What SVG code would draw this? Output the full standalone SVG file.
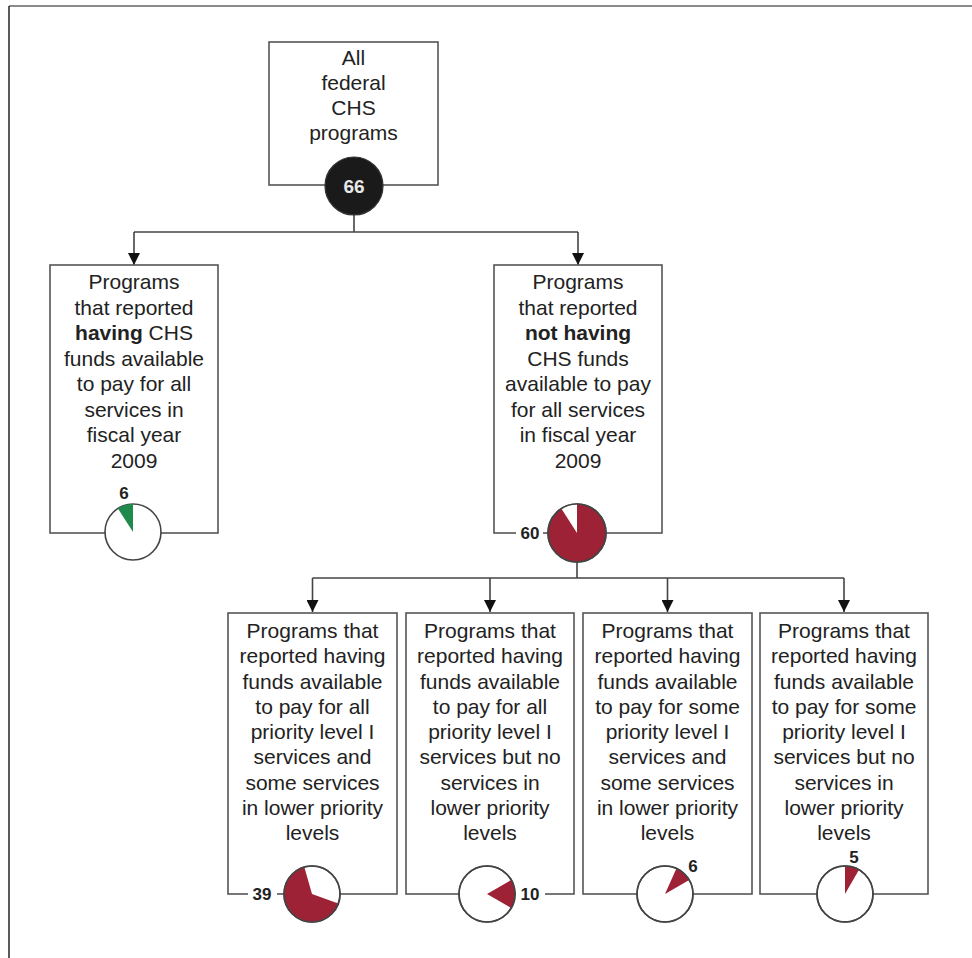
<svg xmlns="http://www.w3.org/2000/svg" width="972" height="958" viewBox="0 0 972 958">
<defs>
<marker id="arr" viewBox="0 0 12 12" refX="12" refY="6" markerWidth="12" markerHeight="12" markerUnits="userSpaceOnUse" orient="auto">
<path d="M0,0 L12,6 L0,12 Z" fill="#111"/>
</marker>
<style>
.box{fill:#fff;stroke:#555;stroke-width:1.6}
.t{font-family:"Liberation Sans",Arial,sans-serif;font-size:21px;fill:#222;text-anchor:middle}
.n{font-family:"Liberation Sans",Arial,sans-serif;font-size:17px;font-weight:bold;fill:#222;text-anchor:middle}
.pie{fill:#fff;stroke:#444;stroke-width:1.6}
.red{fill:#9E2236;stroke:#444;stroke-width:1.6}
.redw{fill:#9E2236}
.green{fill:#1F8A4C}
.con{fill:none;stroke:#444;stroke-width:1.6}
</style>
</defs>
<rect width="972" height="958" fill="#fff"/>
<line x1="9" y1="6" x2="972" y2="6" stroke="#8a8a8a" stroke-width="2"/>
<line x1="9" y1="6" x2="9" y2="958" stroke="#333" stroke-width="1.6"/>

<g id="connectors">
<path class="con" d="M354,214 V232"/>
<path class="con" d="M134,232 H578"/>
<line class="con" x1="134" y1="232" x2="134" y2="265" marker-end="url(#arr)"/>
<line class="con" x1="578" y1="232" x2="578" y2="265" marker-end="url(#arr)"/>
<path class="con" d="M577,562 V578"/>
<path class="con" d="M312.5,578 H844"/>
<line class="con" x1="312.5" y1="578" x2="312.5" y2="612" marker-end="url(#arr)"/>
<line class="con" x1="490" y1="578" x2="490" y2="612" marker-end="url(#arr)"/>
<line class="con" x1="667.5" y1="578" x2="667.5" y2="612" marker-end="url(#arr)"/>
<line class="con" x1="844" y1="578" x2="844" y2="612" marker-end="url(#arr)"/>
</g>

<g id="node-all">
<rect class="box" x="269" y="42" width="169" height="143"/>
<text class="t" x="353.5" y="65">All</text>
<text class="t" x="353.5" y="90">federal</text>
<text class="t" x="353.5" y="115">CHS</text>
<text class="t" x="353.5" y="140">programs</text>
<circle cx="354" cy="186" r="29" fill="#1a1a1a" stroke="#333" stroke-width="1.2"/>
<text x="354" y="193" font-family="Liberation Sans,Arial,sans-serif" font-size="19" font-weight="bold" fill="#e8e8e8" text-anchor="middle">66</text>
</g>

<g id="node-having">
<rect class="box" x="50" y="265" width="168" height="268"/>
<text class="t" x="134" y="289">Programs</text>
<text class="t" x="134" y="314.5">that reported</text>
<text class="t" x="134" y="340"><tspan font-weight="bold">having</tspan> CHS</text>
<text class="t" x="134" y="365.5">funds available</text>
<text class="t" x="134" y="391">to pay for all</text>
<text class="t" x="134" y="416.5">services in</text>
<text class="t" x="134" y="442">fiscal year</text>
<text class="t" x="134" y="467.5">2009</text>
<circle class="pie" cx="133" cy="532" r="28"/>
<path class="green" d="M133,532 L133,504 A28,28 0 0,0 117.9,508.4 Z"/>
<text class="n" x="124" y="499">6</text>
</g>

<g id="node-not-having">
<rect class="box" x="494" y="265" width="168" height="268"/>
<text class="t" x="578" y="289">Programs</text>
<text class="t" x="578" y="314.5">that reported</text>
<text class="t" x="578" y="340" font-weight="bold">not having</text>
<text class="t" x="578" y="365.5">CHS funds</text>
<text class="t" x="578" y="391">available to pay</text>
<text class="t" x="578" y="416.5">for all services</text>
<text class="t" x="578" y="442">in fiscal year</text>
<text class="t" x="578" y="467.5">2009</text>
<rect x="516" y="523" width="27" height="20" fill="#fff"/>
<text class="n" x="530" y="539">60</text>
<circle class="red" cx="577" cy="533" r="29"/>
<path fill="#fff" d="M577,533 L577,504 A29,29 0 0,0 561.3,508.6 Z"/>
<circle cx="577" cy="533" r="29" fill="none" stroke="#444" stroke-width="1.6"/>
</g>

<g id="node-b1">
<rect class="box" x="228" y="613" width="169" height="281"/>
<text class="t" x="312.5" y="638">Programs that</text>
<text class="t" x="312.5" y="663.25">reported having</text>
<text class="t" x="312.5" y="688.5">funds available</text>
<text class="t" x="312.5" y="713.75">to pay for all</text>
<text class="t" x="312.5" y="739">priority level I</text>
<text class="t" x="312.5" y="764.25">services and</text>
<text class="t" x="312.5" y="789.5">some services</text>
<text class="t" x="312.5" y="814.75">in lower priority</text>
<text class="t" x="312.5" y="840">levels</text>
<rect x="248" y="884" width="29" height="20" fill="#fff"/>
<text class="n" x="262" y="900">39</text>
<circle class="pie" cx="312" cy="894" r="28"/>
<path class="redw" d="M312,894 L338.3,903.6 A28,28 0 1,1 304.3,867.1 Z"/>
<circle cx="312" cy="894" r="28" fill="none" stroke="#444" stroke-width="1.6"/>
</g>

<g id="node-b2">
<rect class="box" x="406" y="613" width="168" height="281"/>
<text class="t" x="490" y="638">Programs that</text>
<text class="t" x="490" y="663.25">reported having</text>
<text class="t" x="490" y="688.5">funds available</text>
<text class="t" x="490" y="713.75">to pay for all</text>
<text class="t" x="490" y="739">priority level I</text>
<text class="t" x="490" y="764.25">services but no</text>
<text class="t" x="490" y="789.5">services in</text>
<text class="t" x="490" y="814.75">lower priority</text>
<text class="t" x="490" y="840">levels</text>
<rect x="516" y="884" width="29" height="20" fill="#fff"/>
<text class="n" x="530" y="900">10</text>
<circle class="pie" cx="487" cy="894" r="28"/>
<path class="redw" d="M487,894 L511.2,880 A28,28 0 0,1 511.2,908 Z"/>
<circle cx="487" cy="894" r="28" fill="none" stroke="#444" stroke-width="1.6"/>
</g>

<g id="node-b3">
<rect class="box" x="583" y="613" width="169" height="281"/>
<text class="t" x="667.5" y="638">Programs that</text>
<text class="t" x="667.5" y="663.25">reported having</text>
<text class="t" x="667.5" y="688.5">funds available</text>
<text class="t" x="667.5" y="713.75">to pay for some</text>
<text class="t" x="667.5" y="739">priority level I</text>
<text class="t" x="667.5" y="764.25">services and</text>
<text class="t" x="667.5" y="789.5">some services</text>
<text class="t" x="667.5" y="814.75">in lower priority</text>
<text class="t" x="667.5" y="840">levels</text>
<circle class="pie" cx="665" cy="894" r="28"/>
<path class="redw" d="M665,894 L676.4,868.4 A28,28 0 0,1 689.2,880 Z"/>
<circle cx="665" cy="894" r="28" fill="none" stroke="#444" stroke-width="1.6"/>
<text class="n" x="693" y="872">6</text>
</g>

<g id="node-b4">
<rect class="box" x="760" y="613" width="168" height="281"/>
<text class="t" x="844" y="638">Programs that</text>
<text class="t" x="844" y="663.25">reported having</text>
<text class="t" x="844" y="688.5">funds available</text>
<text class="t" x="844" y="713.75">to pay for some</text>
<text class="t" x="844" y="739">priority level I</text>
<text class="t" x="844" y="764.25">services but no</text>
<text class="t" x="844" y="789.5">services in</text>
<text class="t" x="844" y="814.75">lower priority</text>
<text class="t" x="844" y="840">levels</text>
<circle class="pie" cx="845" cy="894" r="28"/>
<path class="redw" d="M845,894 L845,866 A28,28 0 0,1 859,869.8 Z"/>
<circle cx="845" cy="894" r="28" fill="none" stroke="#444" stroke-width="1.6"/>
<text class="n" x="854" y="863">5</text>
</g>
</svg>
